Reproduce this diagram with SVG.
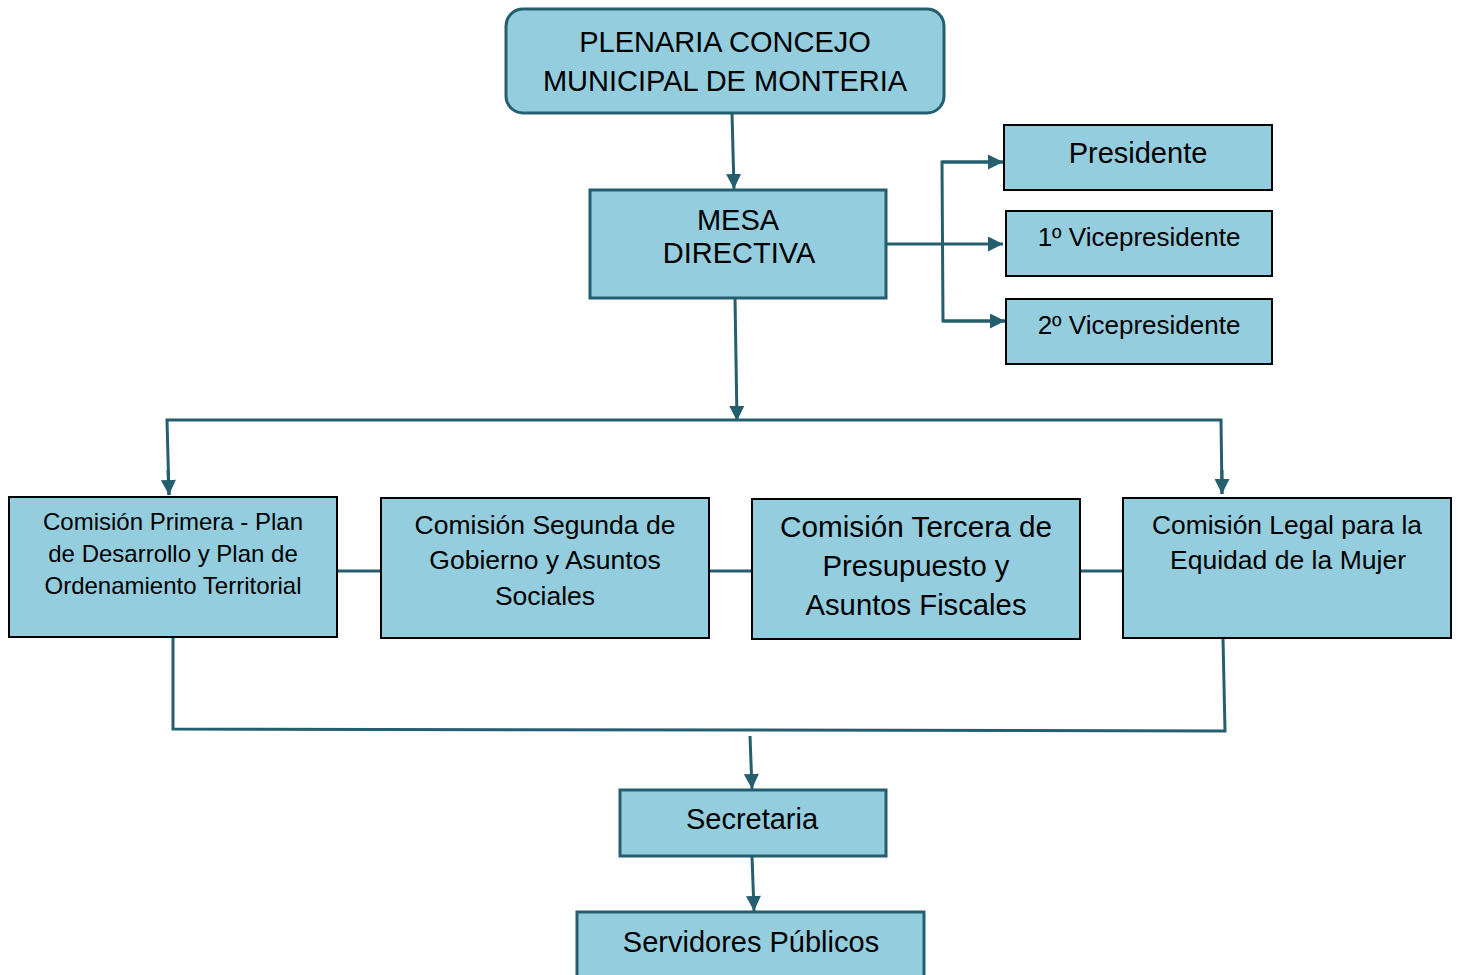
<svg xmlns="http://www.w3.org/2000/svg" width="1458" height="975" viewBox="0 0 1458 975">
<style>
.box{fill:#94CDDD;stroke:#000;stroke-width:2}
.tbox{fill:#94CDDD;stroke:#255E6E;stroke-width:3}
.t{font-family:"Liberation Sans",Arial,sans-serif;fill:#000;text-anchor:middle}
.c{fill:none;stroke:#255E6E;stroke-width:3}
</style>
<defs>
<marker id="ah" viewBox="0 0 10 10" refX="10" refY="5" markerWidth="5.2" markerHeight="5" markerUnits="strokeWidth" orient="auto">
<path d="M0,0 L10,5 L0,10 Z" fill="#255E6E"/>
</marker>
</defs>
<rect width="1458" height="975" fill="#fff"/>
<g id="connectors">
<line class="c" x1="732" y1="113" x2="734" y2="189" marker-end="url(#ah)"/>
<line class="c" x1="886" y1="244" x2="1003" y2="244" marker-end="url(#ah)"/>
<polyline class="c" points="1003,162 942,162 943,321 1005,321"/>
<line class="c" x1="942" y1="162" x2="1003" y2="162" marker-end="url(#ah)"/>
<line class="c" x1="943" y1="321" x2="1005" y2="321" marker-end="url(#ah)"/>
<line class="c" x1="735" y1="298" x2="737" y2="421" marker-end="url(#ah)"/>
<polyline class="c" points="169,495 167,420 1221,420 1222,494"/>
<line class="c" x1="168" y1="470" x2="169" y2="495" marker-end="url(#ah)"/>
<line class="c" x1="1222" y1="470" x2="1222" y2="494" marker-end="url(#ah)"/>
<line class="c" x1="337" y1="571" x2="381" y2="571"/>
<line class="c" x1="709" y1="571" x2="752" y2="571"/>
<line class="c" x1="1080" y1="571" x2="1123" y2="571"/>
<polyline class="c" points="173,637 173,729 1225,731 1223,638"/>
<line class="c" x1="750" y1="736" x2="752" y2="789" marker-end="url(#ah)"/>
<line class="c" x1="752" y1="856" x2="754" y2="911" marker-end="url(#ah)"/>
</g>
<g id="plenaria">
<rect class="tbox" x="506" y="9" width="438" height="104" rx="17" stroke-width="2"/>
<text class="t" x="725" y="52" font-size="29">PLENARIA CONCEJO</text>
<text class="t" x="725" y="91" font-size="29">MUNICIPAL DE MONTERIA</text>
</g>
<g id="mesa">
<rect class="tbox" x="590" y="190" width="296" height="108"/>
<text class="t" x="738" y="230" font-size="29">MESA</text>
<text class="t" x="739" y="263" font-size="29">DIRECTIVA</text>
</g>
<g id="presidente">
<rect class="box" x="1004" y="125" width="268" height="65"/>
<text class="t" x="1138" y="163" font-size="29">Presidente</text>
</g>
<g id="vice1">
<rect class="box" x="1006" y="211" width="266" height="65"/>
<text class="t" x="1139" y="246" font-size="26">1º Vicepresidente</text>
</g>
<g id="vice2">
<rect class="box" x="1006" y="299" width="266" height="65"/>
<text class="t" x="1139" y="334" font-size="26">2º Vicepresidente</text>
</g>
<g id="comision1">
<rect class="box" x="9" y="497" width="328" height="140"/>
<text class="t" x="173" y="530" font-size="24">Comisión Primera - Plan</text>
<text class="t" x="173" y="562" font-size="24">de Desarrollo y Plan de</text>
<text class="t" x="173" y="594" font-size="24">Ordenamiento Territorial</text>
</g>
<g id="comision2">
<rect class="box" x="381" y="498" width="328" height="140"/>
<text class="t" x="545" y="534" font-size="26.5">Comisión Segunda de</text>
<text class="t" x="545" y="569" font-size="26.5">Gobierno y Asuntos</text>
<text class="t" x="545" y="605" font-size="26.5">Sociales</text>
</g>
<g id="comision3">
<rect class="box" x="752" y="499" width="328" height="140"/>
<text class="t" x="916" y="537" font-size="29" textLength="272" lengthAdjust="spacingAndGlyphs">Comisión Tercera de</text>
<text class="t" x="916" y="576" font-size="29" textLength="187" lengthAdjust="spacingAndGlyphs">Presupuesto y</text>
<text class="t" x="916" y="615" font-size="29" textLength="221" lengthAdjust="spacingAndGlyphs">Asuntos Fiscales</text>
</g>
<g id="comision-legal">
<rect class="box" x="1123" y="498" width="328" height="140"/>
<text class="t" x="1287" y="534" font-size="26.5" textLength="270" lengthAdjust="spacingAndGlyphs">Comisión Legal para la</text>
<text class="t" x="1288" y="569" font-size="26.5" textLength="236" lengthAdjust="spacingAndGlyphs">Equidad de la Mujer</text>
</g>
<g id="secretaria">
<rect class="tbox" x="620" y="790" width="266" height="66"/>
<text class="t" x="752" y="829" font-size="29">Secretaria</text>
</g>
<g id="servidores">
<rect class="tbox" x="577" y="912" width="347" height="70"/>
<text class="t" x="751" y="952" font-size="29">Servidores Públicos</text>
</g>
</svg>
